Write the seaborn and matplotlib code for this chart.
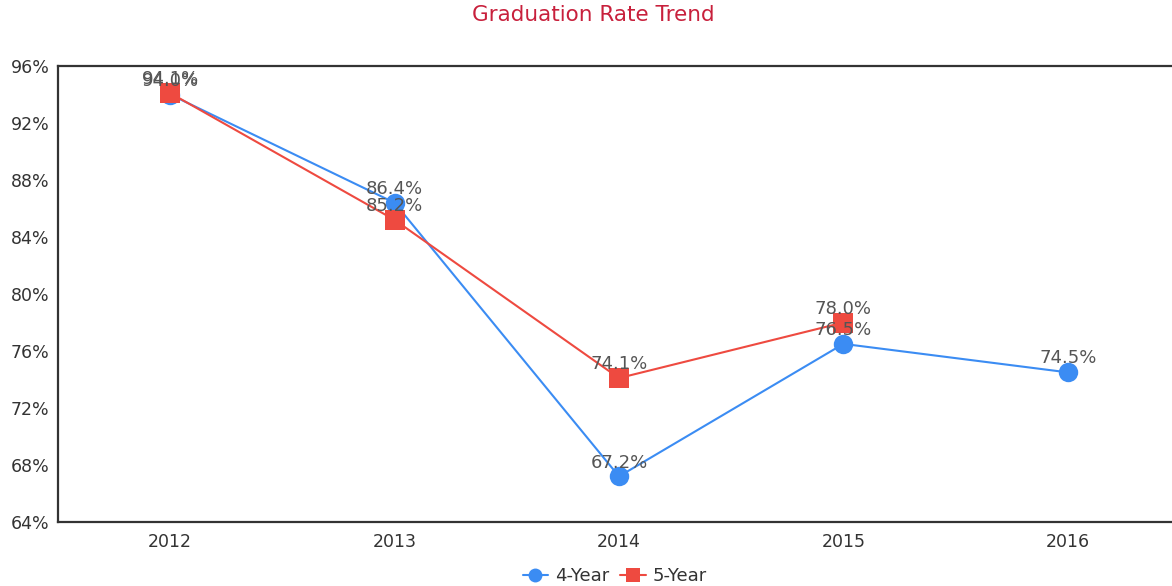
import matplotlib
matplotlib.use("Agg")
import matplotlib.pyplot as plt
from matplotlib.ticker import FuncFormatter
import seaborn as sns
import pandas as pd
import numpy as np

years = ["2012", "2013", "2014", "2015", "2016"]
four_year = [94.0, 86.4, 67.2, 76.5, 74.5]
five_year = [94.1, 85.2, 74.1, 78.0, np.nan]
series_names = ["4-Year", "5-Year"]
colors = {"4-Year": "#3b8cf3", "5-Year": "#ee4a40"}
markers = {"4-Year": "o", "5-Year": "s"}

sns.set_theme(style="white")
plt.rcParams["font.family"] = ["DejaVu Sans"]

rows = []
for name, vals in zip(series_names, [four_year, five_year]):
    for i, (yr, v) in enumerate(zip(years, vals)):
        rows.append({"pos": i, "year": yr, "rate": v, "series": name})
df = pd.DataFrame(rows)

fig = plt.figure(figsize=(11.72, 5.86), dpi=100)
ax = fig.add_axes([58 / 1172, 1 - 522 / 586, (1180 - 58) / 1172, (522 - 66) / 586])

sns.lineplot(data=df.dropna(), x="pos", y="rate", hue="series", style="series",
             markers=markers, dashes=False, palette=colors, markersize=14,
             markeredgewidth=0, linewidth=1.5, ax=ax, legend=False)

# value labels just above each point
for name, vals in zip(series_names, [four_year, five_year]):
    for i, v in enumerate(vals):
        if np.isnan(v):
            continue
        ax.annotate(f"{v:.1f}%", (i, v), xytext=(0, 10), textcoords="offset points",
                    ha="center", va="center", fontsize=13, color="#555555")

ax.set_xlim(-0.5, 4.5)
ax.set_ylim(64, 96)
ax.set_yticks(np.arange(64, 97, 4))
ax.yaxis.set_major_formatter(FuncFormatter(lambda v, p: f"{v:.0f}%"))
ax.set_xticks(range(len(years)))
ax.set_xticklabels(years)
ax.set_xlabel("")
ax.set_ylabel("")
ax.tick_params(axis="both", length=0, labelsize=12.5, labelcolor="#333333")
ax.tick_params(axis="y", pad=6)
ax.tick_params(axis="x", pad=8)

for side in ["left", "top", "bottom"]:
    ax.spines[side].set_visible(True)
    ax.spines[side].set_color("#333333")
    ax.spines[side].set_linewidth(1.6)
ax.spines["right"].set_visible(False)

fig.text(593 / 1172, 1 - 15 / 586, "Graduation Rate Trend", ha="center", va="center",
         fontsize=15.5, color="#c8203c")

handles = [
    plt.Line2D([], [], color=colors[n], marker=markers[n], markersize=10,
               markeredgewidth=0, linewidth=1.5) for n in series_names
]
fig.legend(handles, series_names, loc="center", bbox_to_anchor=(615 / 1172, 1 - 576 / 586),
           ncol=2, frameon=False, fontsize=13, handlelength=1.4, columnspacing=0.6,
           handletextpad=0.4, labelcolor="#333333")

fig.savefig("out.png", dpi=100)
